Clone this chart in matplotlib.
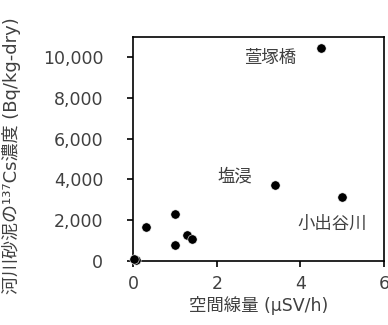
import matplotlib.pyplot as plt
from matplotlib.ticker import FuncFormatter

plt.rcParams['font.family'] = ['DejaVu Sans', 'Noto Sans CJK JP']

# air dose rate (uSv/h) vs 137Cs in river sediment (Bq/kg-dry)
dose = [4.5, 3.4, 5.0, 0.3, 1.0, 1.0, 1.3, 1.4, 0.07, 0.03]
cs137 = [10450, 3750, 3150, 1650, 2300, 780, 1250, 1100, 60, 120]

site_names = ["萱塚橋", "塩浸", "小出谷川"]
site_x = [4.5, 3.4, 5.0]
site_y = [10450, 3750, 3150]

text_col = "#404040"

fig, ax = plt.subplots(figsize=(3.88, 3.25), dpi=100)
fig.subplots_adjust(left=0.343, right=0.99, top=0.887, bottom=0.197)

ax.scatter(dose, cs137, s=45, color="black", edgecolors="white", linewidths=0.4, zorder=3, clip_on=False)

ax.annotate(site_names[0], (site_x[0], site_y[0]), xytext=(-56, -11), textcoords="offset points",
            fontsize=12.5, color=text_col)
ax.annotate(site_names[1], (site_x[1], site_y[1]), xytext=(-42, 2.5), textcoords="offset points",
            fontsize=12.5, color=text_col)
ax.annotate(site_names[2], (site_x[2], site_y[2]), xytext=(-32, -23), textcoords="offset points",
            fontsize=12.5, color=text_col)

ax.set_xlim(0, 6)
ax.set_ylim(0, 11000)
ax.set_xticks([0, 2, 4, 6])
ax.set_yticks(range(0, 10001, 2000))
ax.yaxis.set_major_formatter(FuncFormatter(lambda v, p: f"{int(v):,}"))
ax.tick_params(labelsize=12.5, colors=text_col, length=4, width=1.2, direction="out")
ax.tick_params(axis="x", pad=6)
ax.tick_params(axis="y", pad=17.5)
for sp in ax.spines.values():
    sp.set_linewidth(1.2)
    sp.set_color("black")
ax.tick_params(color="black")

ax.set_xlabel("空間線量 (µSV/h)", fontsize=12.5, color=text_col, labelpad=2)
ax.set_ylabel("河川砂泥の¹³⁷Cs濃度 (Bq/kg-dry)", fontsize=13, color=text_col)
ax.yaxis.set_label_coords(-0.445, 0.47)

plt.savefig("out.png")
